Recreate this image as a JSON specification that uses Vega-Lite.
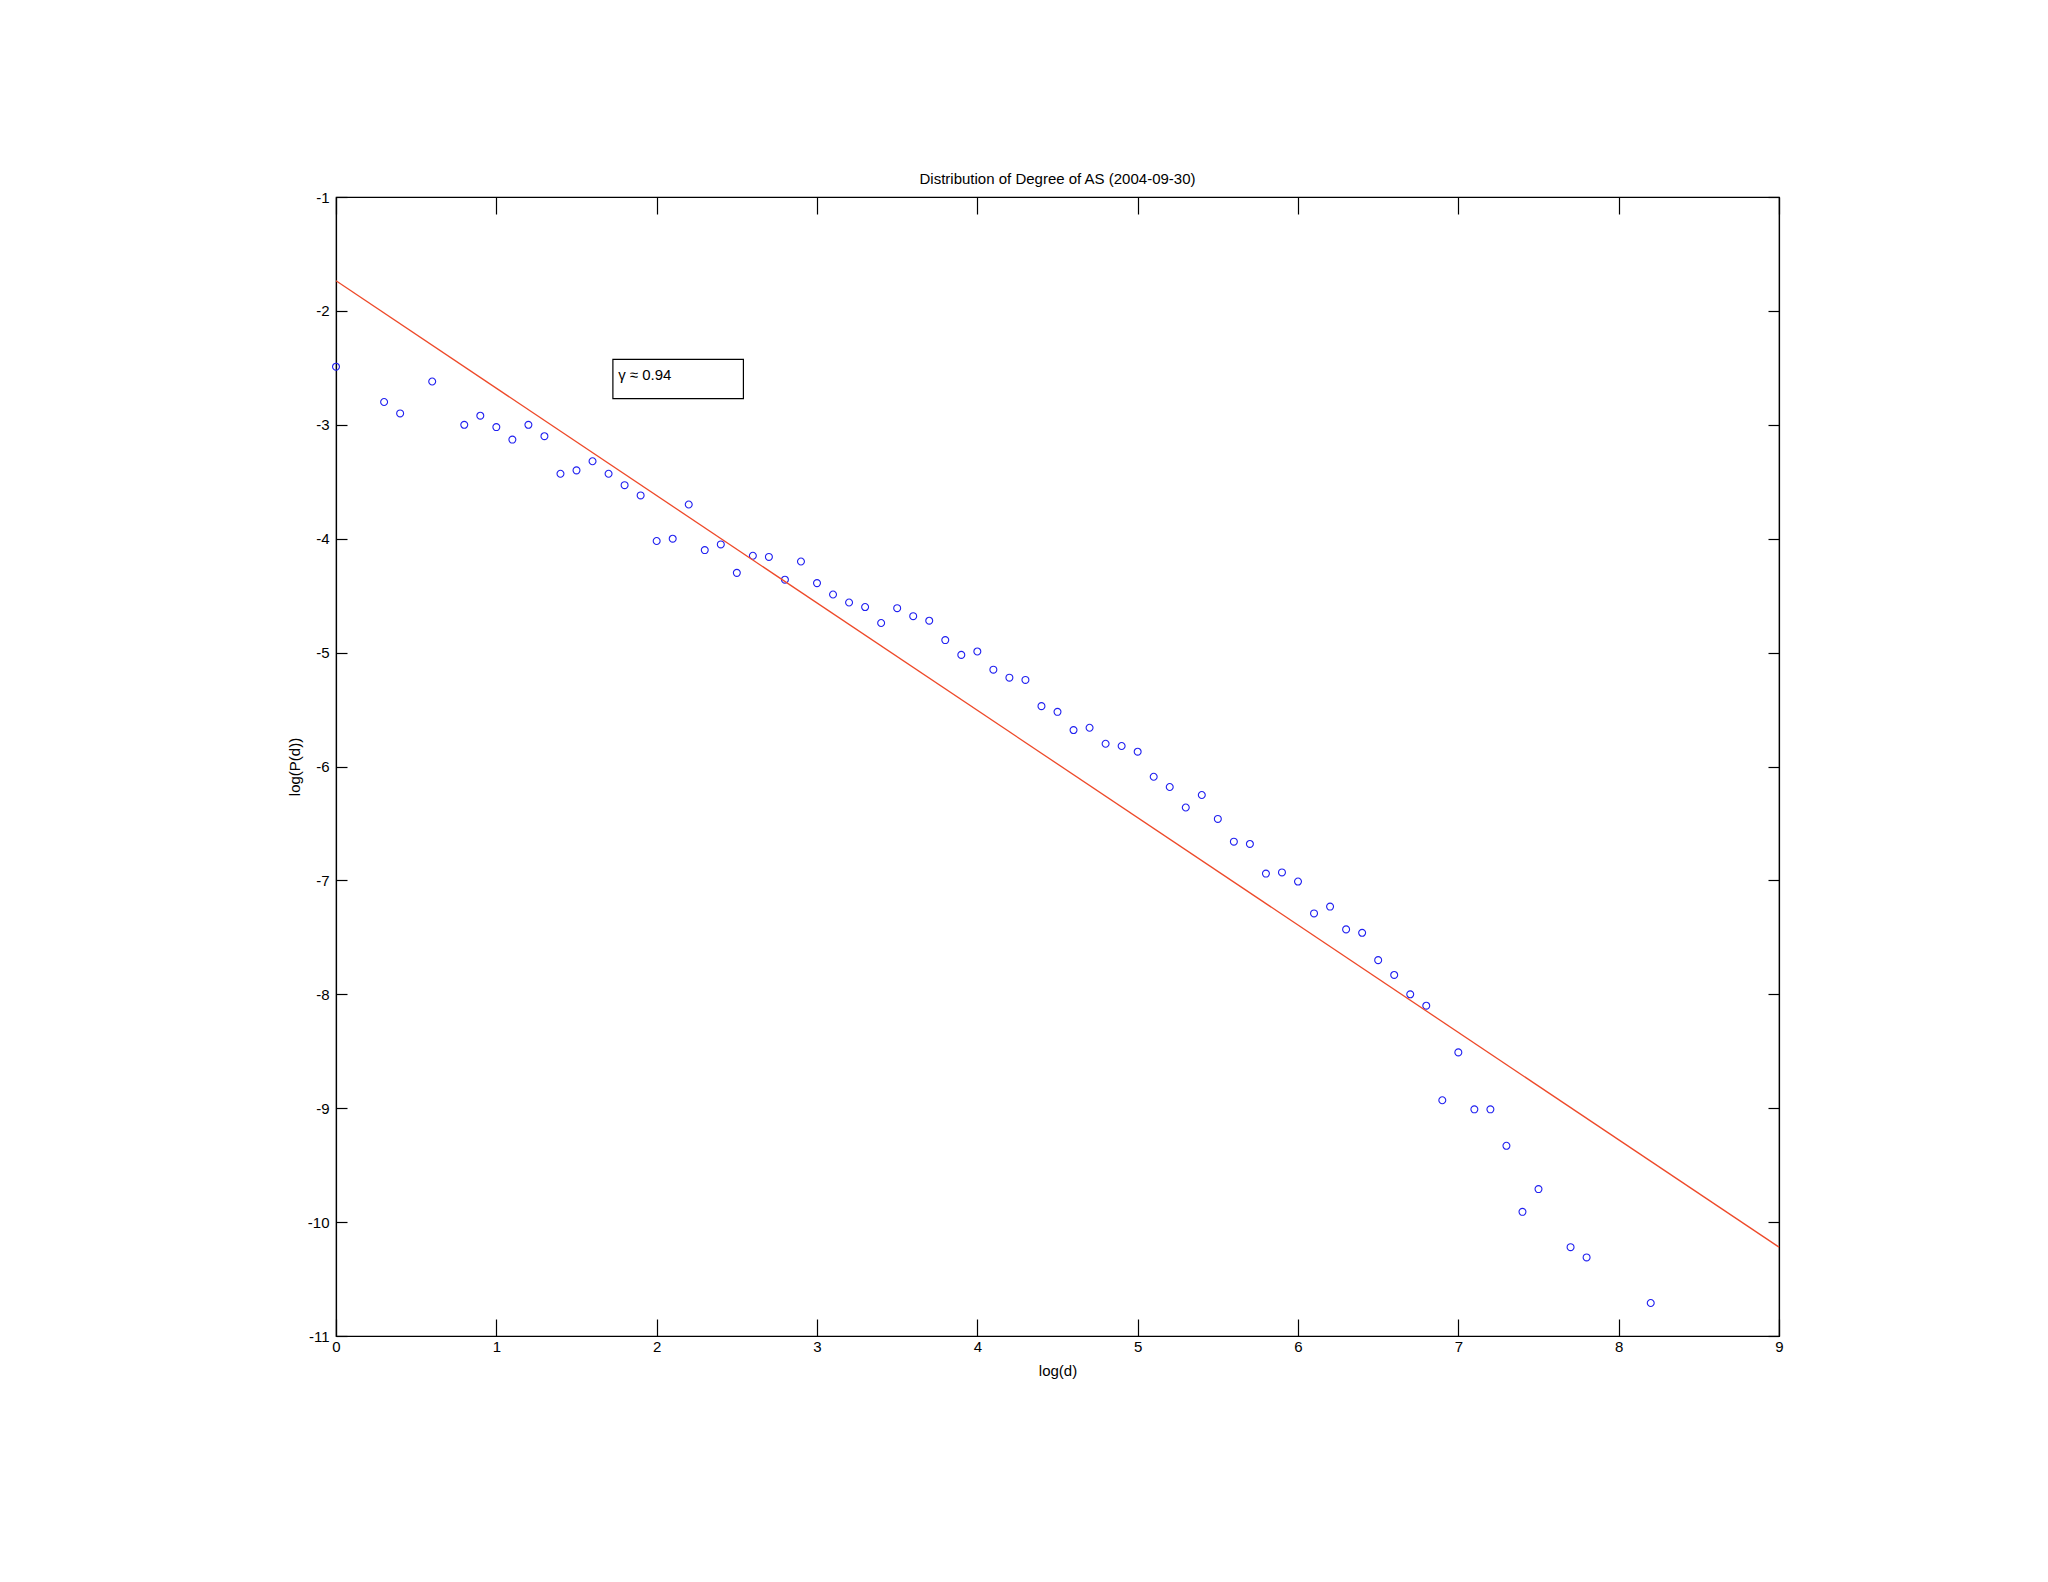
{
  "$schema": "https://vega.github.io/schema/vega-lite/v6.json",
  "autosize": {"type": "none"},
  "width": 1443,
  "height": 1139,
  "padding": {"left": 336, "top": 197, "right": 269, "bottom": 246},
  "background": "white",
  "config": {
    "font": "Liberation Sans",
    "view": {"stroke": "black", "strokeWidth": 1.2},
    "axis": {"grid": false, "domainColor": "black", "tickColor": "black", "labelColor": "black", "titleColor": "black", "labelFont": "Liberation Sans", "titleFont": "Liberation Sans", "labelFontSize": 15, "titleFontSize": 15, "titleFontWeight": "normal", "domainWidth": 1.2, "tickWidth": 1.2}
  },
  "title": {"text": "Distribution of Degree of AS (2004-09-30)", "fontSize": 15, "fontWeight": "normal", "font": "Liberation Sans", "color": "black", "offset": 3},
  "datasets": {
    "pts": [
      {"d": 0.0, "p": -2.49}, {"d": 0.3, "p": -2.80}, {"d": 0.4, "p": -2.90}, {"d": 0.6, "p": -2.62},
      {"d": 0.8, "p": -3.00}, {"d": 0.9, "p": -2.92}, {"d": 1.0, "p": -3.02}, {"d": 1.1, "p": -3.13},
      {"d": 1.2, "p": -3.00}, {"d": 1.3, "p": -3.10}, {"d": 1.4, "p": -3.43}, {"d": 1.5, "p": -3.40},
      {"d": 1.6, "p": -3.32}, {"d": 1.7, "p": -3.43}, {"d": 1.8, "p": -3.53}, {"d": 1.9, "p": -3.62},
      {"d": 2.0, "p": -4.02}, {"d": 2.1, "p": -4.00}, {"d": 2.2, "p": -3.70}, {"d": 2.3, "p": -4.10},
      {"d": 2.4, "p": -4.05}, {"d": 2.5, "p": -4.30}, {"d": 2.6, "p": -4.15}, {"d": 2.7, "p": -4.16},
      {"d": 2.8, "p": -4.36}, {"d": 2.9, "p": -4.20}, {"d": 3.0, "p": -4.39}, {"d": 3.1, "p": -4.49},
      {"d": 3.2, "p": -4.56}, {"d": 3.3, "p": -4.60}, {"d": 3.4, "p": -4.74}, {"d": 3.5, "p": -4.61},
      {"d": 3.6, "p": -4.68}, {"d": 3.7, "p": -4.72}, {"d": 3.8, "p": -4.89}, {"d": 3.9, "p": -5.02},
      {"d": 4.0, "p": -4.99}, {"d": 4.1, "p": -5.15}, {"d": 4.2, "p": -5.22}, {"d": 4.3, "p": -5.24},
      {"d": 4.4, "p": -5.47}, {"d": 4.5, "p": -5.52}, {"d": 4.6, "p": -5.68}, {"d": 4.7, "p": -5.66},
      {"d": 4.8, "p": -5.80}, {"d": 4.9, "p": -5.82}, {"d": 5.0, "p": -5.87}, {"d": 5.1, "p": -6.09},
      {"d": 5.2, "p": -6.18}, {"d": 5.3, "p": -6.36}, {"d": 5.4, "p": -6.25}, {"d": 5.5, "p": -6.46},
      {"d": 5.6, "p": -6.66}, {"d": 5.7, "p": -6.68}, {"d": 5.8, "p": -6.94}, {"d": 5.9, "p": -6.93},
      {"d": 6.0, "p": -7.01}, {"d": 6.1, "p": -7.29}, {"d": 6.2, "p": -7.23}, {"d": 6.3, "p": -7.43},
      {"d": 6.4, "p": -7.46}, {"d": 6.5, "p": -7.70}, {"d": 6.6, "p": -7.83}, {"d": 6.7, "p": -8.00},
      {"d": 6.8, "p": -8.10}, {"d": 6.9, "p": -8.93}, {"d": 7.0, "p": -8.51}, {"d": 7.1, "p": -9.01},
      {"d": 7.2, "p": -9.01}, {"d": 7.3, "p": -9.33}, {"d": 7.4, "p": -9.91}, {"d": 7.5, "p": -9.71},
      {"d": 7.7, "p": -10.22}, {"d": 7.8, "p": -10.31}, {"d": 8.2, "p": -10.71}
    ],
    "fit": [{"d": 0, "p": -1.736}, {"d": 9, "p": -10.22}],
    "note": [{"label": "γ ≈ 0.94", "x1": 1.727, "x2": 2.541, "y1": -2.425, "y2": -2.770, "tx": 1.76, "ty": -2.56}]
  },
  "resolve": {"axis": {"x": "independent", "y": "independent"}},
  "layer": [
    {
      "data": {"name": "pts"},
      "mark": {"type": "point", "shape": "circle", "filled": false, "stroke": "#2020f0", "strokeWidth": 1.1, "size": 48, "opacity": 1},
      "encoding": {
        "x": {"field": "d", "type": "quantitative", "title": "log(d)",
              "scale": {"domain": [0, 9], "nice": false, "zero": false},
              "axis": {"orient": "bottom", "values": [0,1,2,3,4,5,6,7,8,9], "tickSize": -17, "labelPadding": 20, "titlePadding": 9, "labelFlush": false, "labelExpr": "toString(datum.value)"}},
        "y": {"field": "p", "type": "quantitative", "title": "log(P(d))",
              "scale": {"domain": [-11, -1], "nice": false, "zero": false},
              "axis": {"orient": "left", "values": [-11,-10,-9,-8,-7,-6,-5,-4,-3,-2,-1], "tickSize": -11, "labelPadding": 18, "titlePadding": 5, "labelFlush": false, "labelExpr": "toString(datum.value)"}}
      }
    },
    {
      "data": {"name": "fit"},
      "mark": {"type": "line", "color": "#ee4a2a", "strokeWidth": 1.3},
      "encoding": {
        "x": {"field": "d", "type": "quantitative", "scale": {"domain": [0, 9], "nice": false, "zero": false},
              "axis": {"orient": "top", "values": [0,1,2,3,4,5,6,7,8,9], "tickSize": -17, "labels": false, "title": null}},
        "y": {"field": "p", "type": "quantitative", "scale": {"domain": [-11, -1], "nice": false, "zero": false},
              "axis": {"orient": "right", "values": [-11,-10,-9,-8,-7,-6,-5,-4,-3,-2,-1], "tickSize": -11, "labels": false, "title": null}}
      }
    },
    {
      "data": {"name": "note"},
      "mark": {"type": "rect", "fill": "white", "stroke": "black", "strokeWidth": 1.2},
      "encoding": {
        "x": {"field": "x1", "type": "quantitative", "axis": null},
        "x2": {"field": "x2"},
        "y": {"field": "y1", "type": "quantitative", "axis": null},
        "y2": {"field": "y2"}
      }
    },
    {
      "data": {"name": "note"},
      "mark": {"type": "text", "align": "left", "baseline": "middle", "fontSize": 15, "font": "Liberation Sans", "color": "black"},
      "encoding": {
        "x": {"field": "tx", "type": "quantitative", "axis": null},
        "y": {"field": "ty", "type": "quantitative", "axis": null},
        "text": {"field": "label"}
      }
    }
  ]
}
